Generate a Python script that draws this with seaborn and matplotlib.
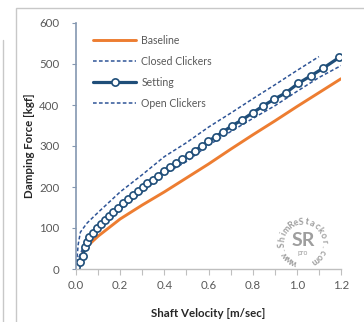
import numpy as np
import pandas as pd
import matplotlib
matplotlib.use("Agg")
import matplotlib.pyplot as plt
import seaborn as sns
from matplotlib.lines import Line2D
from matplotlib.patches import Rectangle

# ---- data ----
baseline_x = [0.03, 0.05, 0.1, 0.2, 0.3, 0.4, 0.5, 0.6, 0.7, 0.8, 0.9, 1.0, 1.1, 1.2]
baseline_y = [38, 55, 80, 122, 156, 188, 222, 256, 292, 327, 361, 396, 430, 464]

closed_x = [0.0, 0.01, 0.02, 0.05, 0.1, 0.2, 0.3, 0.4, 0.5, 0.6, 0.7, 0.8, 0.9, 1.0, 1.1]
closed_y = [0, 60, 90, 112, 138, 188, 230, 274, 308, 346, 380, 415, 449, 484, 518]

setting_x = [0.0, 0.018, 0.03, 0.041, 0.048, 0.06, 0.075, 0.094, 0.112, 0.131, 0.151,
             0.169, 0.192, 0.214, 0.237, 0.26, 0.282, 0.302, 0.323, 0.347, 0.372,
             0.398, 0.425, 0.452, 0.48, 0.51, 0.54, 0.57, 0.60, 0.633, 0.667, 0.705,
             0.75, 0.80, 0.848, 0.897, 0.951, 1.007, 1.063, 1.12, 1.192]
setting_y = [6, 18, 32, 54, 67, 79, 89, 99, 110, 120, 129, 140, 150, 160, 170, 180,
             191, 199, 210, 218, 228, 240, 249, 258, 268, 278, 289, 300, 312, 323,
             335, 349, 363, 381, 398, 414, 430, 453, 471, 490, 516]

open_x = [0.0, 0.01, 0.03, 0.05, 0.1, 0.2, 0.3, 0.4, 0.5, 0.6, 0.7, 0.8, 0.9, 1.0, 1.1, 1.2]
open_y = [0, 25, 50, 65, 95, 145, 188, 232, 262, 302, 335, 367, 398, 433, 467, 496]

x_ticks = [0.0, 0.2, 0.4, 0.6, 0.8, 1.0, 1.2]
y_ticks = [0, 100, 200, 300, 400, 500, 600]

ORANGE = "#ED7D31"
NAVY = "#1F4E79"
DASH = "#2F5597"
TXT = "#595959"

sns.set_theme(style="white")
plt.rcParams["font.family"] = ["Lato", "DejaVu Sans"]

W, H = 364, 322
fig = plt.figure(figsize=(W / 100, H / 100), dpi=100)
ax = fig.add_axes([76 / W, 1 - 269 / H, (341 - 76) / W, (269 - 23) / H])

sns.lineplot(x=baseline_x, y=baseline_y, ax=ax, color=ORANGE, lw=2.1,
             sort=False, estimator=None)
sns.lineplot(x=closed_x, y=closed_y, ax=ax, color=DASH, lw=1.1,
             sort=False, estimator=None)
ax.lines[-1].set_dashes((2.4, 1.5))
sns.lineplot(x=open_x, y=open_y, ax=ax, color=DASH, lw=1.1,
             sort=False, estimator=None)
ax.lines[-1].set_dashes((2.4, 1.5))
sns.lineplot(x=setting_x, y=setting_y, ax=ax, color=NAVY, lw=2.3,
             sort=False, estimator=None, marker="o", markersize=5.2,
             markerfacecolor="white", markeredgecolor=NAVY, markeredgewidth=1.2)

ax.set_xlim(0, 1.2)
ax.set_ylim(0, 600)
minor = np.arange(0, 1.21, 0.1)
ax.set_xticks(minor)
ax.set_xticklabels([f"{v:.1f}" if round(v * 10) % 2 == 0 else "" for v in minor])
ax.set_yticks(y_ticks)
ax.set_yticklabels([str(v) for v in y_ticks])

for s in ["top", "right"]:
    ax.spines[s].set_visible(False)
ax.spines["left"].set_color("#8497B0")
ax.spines["left"].set_linewidth(1.2)
ax.spines["bottom"].set_color("#BFBFBF")
ax.spines["bottom"].set_linewidth(1.0)
ax.tick_params(axis="x", direction="out", length=4, width=0.8, color="#BFBFBF",
               labelsize=8.3, labelcolor=TXT, pad=4, bottom=True)
ax.tick_params(axis="y", direction="out", length=3, width=0.8, color="#8497B0",
               labelsize=8.3, labelcolor=TXT, pad=9, left=True)
ax.grid(False)

ax.set_xlabel("Shaft Velocity [m/sec]", fontsize=8.3, fontweight="bold", color="#262626", labelpad=12)
ax.set_ylabel("Damping Force [kgf]", fontsize=8.3, fontweight="bold", color="#262626", labelpad=3)

handles = [
    Line2D([], [], color=ORANGE, lw=2.1),
    Line2D([], [], color=DASH, lw=1.1, dashes=(2.4, 1.5)),
    Line2D([], [], color=NAVY, lw=2.3, marker="o", markersize=5.2,
           markerfacecolor="white", markeredgecolor=NAVY, markeredgewidth=1.2),
    Line2D([], [], color=DASH, lw=1.1, dashes=(2.4, 1.5)),
]
labels = ["Baseline", "Closed Clickers", "Setting", "Open Clickers"]
leg = ax.legend(handles, labels, loc="upper left", bbox_to_anchor=(0.049, 0.968),
                frameon=False, fontsize=7.6, handlelength=4.1, handletextpad=0.45,
                labelspacing=0.95, borderaxespad=0)
for t in leg.get_texts():
    t.set_color(TXT)

# outer frame lines of the original panel
fig.add_artist(Rectangle((16 / W, -0.1), 2, 1 - 8 / H + 0.1, transform=fig.transFigure,
                         fill=False, edgecolor="#C8C8C8", lw=1.0))
fig.add_artist(Line2D([2.5 / W, 2.5 / W], [0, 1 - 40 / H], transform=fig.transFigure,
                      color="#C8C8C8", lw=1.0))

# watermark
cx, cy = 303, 243
wm = "#9E9E9E"
fig.text(cx / W, 1 - (cy - 2) / H, "SR", fontsize=14, fontweight="bold", color=wm,
         ha="center", va="center")
fig.text(cx / W, 1 - (cy + 10) / H, "pro", fontsize=5, color=wm, ha="center", va="center")
ring = "www.ShimReStackor.com"
r = 21
start = 245.0
step = 15.0
for i, ch in enumerate(ring):
    th = np.deg2rad(start - i * step)
    px = cx + r * np.cos(th)
    py = cy - r * np.sin(th)
    fig.text(px / W, 1 - py / H, ch, fontsize=6.4, color=wm, ha="center", va="center",
             rotation=np.rad2deg(th) - 90, fontweight="bold")

fig.savefig("out.png", dpi=100)
